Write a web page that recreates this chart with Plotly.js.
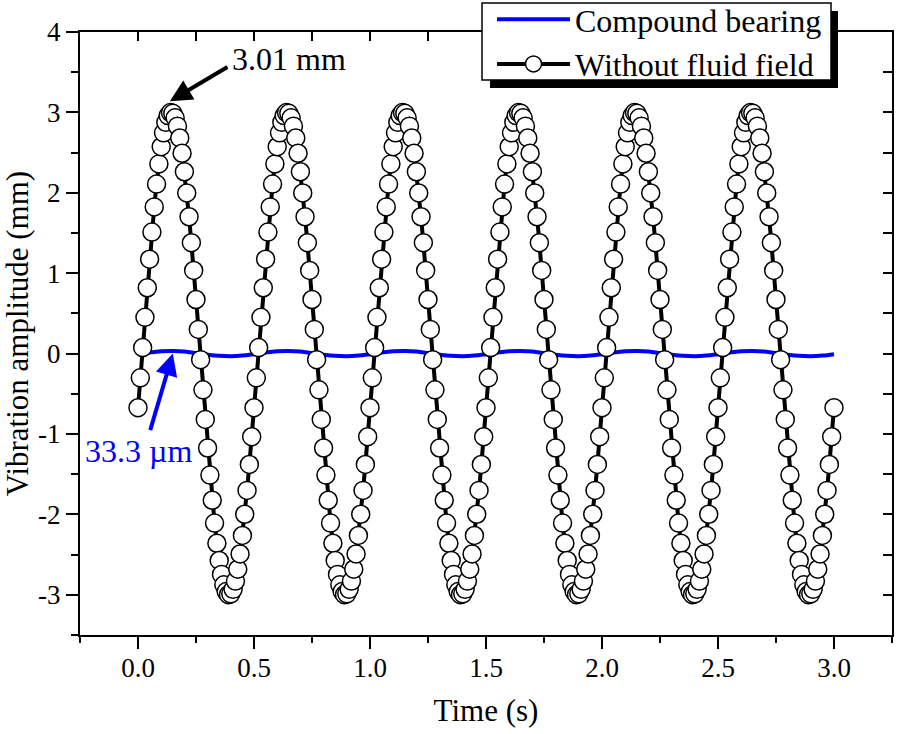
<!DOCTYPE html>
<html>
<head>
<meta charset="utf-8">
<script src="https://cdn.plot.ly/plotly-3.0.1.min.js"></script>
<style>html,body{margin:0;padding:0;background:#fff;}#chart{width:898px;height:734px;}</style>
</head>
<body>
<div id="chart"></div>
<script>
// Without fluid field: sampled every 0.01 s from t = 0.00 s to 3.00 s (mm)
var noFluidCycle1 = [-0.673,-0.301,0.075,0.451,0.819,1.174,1.511,1.824,2.108,2.359,2.573,2.746,2.876,2.960,2.998,2.988,2.932,2.829,2.682,2.492,2.262,1.998,1.702,1.379,1.034,0.673,0.301,-0.075,-0.451,-0.819,-1.174,-1.511,-1.824,-2.108,-2.359,-2.573,-2.746,-2.876,-2.960,-2.998,-2.988,-2.932,-2.829,-2.682,-2.492,-2.262,-1.998,-1.702,-1.379,-1.034];
var noFluidCycle2 = [-0.673,-0.301,0.075,0.451,0.819,1.174,1.511,1.824,2.108,2.359,2.573,2.746,2.876,2.960,2.998,2.988,2.932,2.829,2.682,2.492,2.262,1.998,1.702,1.379,1.034,0.673,0.301,-0.075,-0.451,-0.819,-1.174,-1.511,-1.824,-2.108,-2.359,-2.573,-2.746,-2.876,-2.960,-2.998,-2.988,-2.932,-2.829,-2.682,-2.492,-2.262,-1.998,-1.702,-1.379,-1.034];
var noFluidCycle3 = [-0.673,-0.301,0.075,0.451,0.819,1.174,1.511,1.824,2.108,2.359,2.573,2.746,2.876,2.960,2.998,2.988,2.932,2.829,2.682,2.492,2.262,1.998,1.702,1.379,1.034,0.673,0.301,-0.075,-0.451,-0.819,-1.174,-1.511,-1.824,-2.108,-2.359,-2.573,-2.746,-2.876,-2.960,-2.998,-2.988,-2.932,-2.829,-2.682,-2.492,-2.262,-1.998,-1.702,-1.379,-1.034];
var noFluidCycle4 = [-0.673,-0.301,0.075,0.451,0.819,1.174,1.511,1.824,2.108,2.359,2.573,2.746,2.876,2.960,2.998,2.988,2.932,2.829,2.682,2.492,2.262,1.998,1.702,1.379,1.034,0.673,0.301,-0.075,-0.451,-0.819,-1.174,-1.511,-1.824,-2.108,-2.359,-2.573,-2.746,-2.876,-2.960,-2.998,-2.988,-2.932,-2.829,-2.682,-2.492,-2.262,-1.998,-1.702,-1.379,-1.034];
var noFluidCycle5 = [-0.673,-0.301,0.075,0.451,0.819,1.174,1.511,1.824,2.108,2.359,2.573,2.746,2.876,2.960,2.998,2.988,2.932,2.829,2.682,2.492,2.262,1.998,1.702,1.379,1.034,0.673,0.301,-0.075,-0.451,-0.819,-1.174,-1.511,-1.824,-2.108,-2.359,-2.573,-2.746,-2.876,-2.960,-2.998,-2.988,-2.932,-2.829,-2.682,-2.492,-2.262,-1.998,-1.702,-1.379,-1.034];
var noFluidCycle6 = [-0.673,-0.301,0.075,0.451,0.819,1.174,1.511,1.824,2.108,2.359,2.573,2.746,2.876,2.960,2.998,2.988,2.932,2.829,2.682,2.492,2.262,1.998,1.702,1.379,1.034,0.673,0.301,-0.075,-0.451,-0.819,-1.174,-1.511,-1.824,-2.108,-2.359,-2.573,-2.746,-2.876,-2.960,-2.998,-2.988,-2.932,-2.829,-2.682,-2.492,-2.262,-1.998,-1.702,-1.379,-1.034];
var noFluidEnd = [-0.673];
var noFluidT0 = 0.0, noFluidDt = 0.01;

// Compound bearing: sampled every 0.05 s from 0.00 s to 3.00 s (mm)
var compound = [-0.007,0.013,0.028,0.033,0.025,0.007,-0.013,-0.028,-0.033,-0.025,
                -0.007,0.013,0.028,0.033,0.025,0.007,-0.013,-0.028,-0.033,-0.025,
                -0.007,0.013,0.028,0.033,0.025,0.007,-0.013,-0.028,-0.033,-0.025,
                -0.007,0.013,0.028,0.033,0.025,0.007,-0.013,-0.028,-0.033,-0.025,
                -0.007,0.013,0.028,0.033,0.025,0.007,-0.013,-0.028,-0.033,-0.025,
                -0.007,0.013,0.028,0.033,0.025,0.007,-0.013,-0.028,-0.033,-0.025,
                -0.007];
var compoundT0 = 0.0, compoundDt = 0.05;

var xTicks = [0.0, 0.5, 1.0, 1.5, 2.0, 2.5, 3.0];
var xTickText = ['0.0','0.5','1.0','1.5','2.0','2.5','3.0'];
var yTicks = [-3, -2, -1, 0, 1, 2, 3, 4];
var yTickText = ['-3','-2','-1','0','1','2','3','4'];

var seriesNames = ['Compound bearing', 'Without fluid field'];

var noFluid = [].concat(noFluidCycle1, noFluidCycle2, noFluidCycle3, noFluidCycle4, noFluidCycle5, noFluidCycle6, noFluidEnd);

var FONT = '"Liberation Serif", "Times New Roman", Times, serif';

var traces = [
  {
    type: 'scatter', mode: 'lines', name: seriesNames[0],
    x0: compoundT0, dx: compoundDt, y: compound,
    line: {color: '#0000ff', width: 4, shape: 'spline'}
  },
  {
    type: 'scatter', mode: 'lines+markers', name: seriesNames[1],
    x0: noFluidT0, dx: noFluidDt, y: noFluid,
    line: {color: '#000000', width: 4},
    marker: {symbol: 'circle', size: 18, color: '#ffffff', line: {color: '#000000', width: 1.5}}
  },
  {
    type: 'scatter', mode: 'lines', x: [null], y: [null], xaxis: 'x2', yaxis: 'y2',
    showlegend: false, hoverinfo: 'skip'
  }
];

var layout = {
  width: 898, height: 734,
  margin: {l: 80, r: 6, t: 32, b: 99, autoexpand: false},
  paper_bgcolor: '#ffffff', plot_bgcolor: '#ffffff',
  font: {family: FONT, color: '#000000', size: 27},
  showlegend: true,
  xaxis: {
    range: [-0.25, 3.25], tickmode: 'array', tickvals: xTicks, ticktext: xTickText,
    ticks: 'outside', ticklen: 12, tickwidth: 2, tickcolor: '#000',
    minor: {dtick: 0.25, tick0: 0, ticks: 'outside', ticklen: 6, tickwidth: 2, tickcolor: '#000', showgrid: false},
    showline: true, linewidth: 2, linecolor: '#000', showgrid: false, zeroline: false,
    tickfont: {family: FONT, size: 27}, ticklabelstandoff: -4,
    title: {text: 'Time (s)', font: {family: FONT, size: 31}, standoff: 17}
  },
  yaxis: {
    range: [-3.5, 4], tickmode: 'array', tickvals: yTicks, ticktext: yTickText,
    ticks: 'outside', ticklen: 12, tickwidth: 2, tickcolor: '#000',
    minor: {dtick: 0.5, tick0: 0, ticks: 'outside', ticklen: 7, tickwidth: 2, tickcolor: '#000', showgrid: false},
    showline: true, linewidth: 2, linecolor: '#000', showgrid: false, zeroline: false,
    tickfont: {family: FONT, size: 27},
    title: {text: 'Vibration amplitude (mm)', font: {family: FONT, size: 31}, standoff: 6}
  },
  xaxis2: {
    overlaying: 'x', side: 'top', matches: 'x', range: [-0.25, 3.25],
    dtick: 0.25, tick0: 0, ticks: 'inside', ticklen: 9, tickwidth: 2, tickcolor: '#000',
    showticklabels: false, showline: true, linewidth: 2, linecolor: '#000', showgrid: false, zeroline: false
  },
  yaxis2: {
    overlaying: 'y', side: 'right', matches: 'y', range: [-3.5, 4],
    dtick: 0.5, tick0: 0, ticks: 'inside', ticklen: 9, tickwidth: 2, tickcolor: '#000',
    showticklabels: false, showline: true, linewidth: 2, linecolor: '#000', showgrid: false, zeroline: false
  },
  legend: {
    x: 0.5074, y: 1.0663, xanchor: 'left', yanchor: 'top',
    bgcolor: 'rgba(0,0,0,0)', borderwidth: 0,
    font: {family: FONT, size: 32}, itemwidth: 73, tracegroupgap: 0
  },
  shapes: [
    {type: 'rect', xref: 'paper', yref: 'paper', x0: 0.5049, x1: 0.9335, y0: 0.9071, y1: 1.0348,
     fillcolor: '#000', line: {width: 0}, layer: 'above'},
    {type: 'rect', xref: 'paper', yref: 'paper', x0: 0.4951, x1: 0.9249, y0: 0.9204, y1: 1.0481,
     fillcolor: '#fff', line: {width: 1.5, color: '#000'}, layer: 'above'}
  ],
  annotations: [
    {x: 0.1375, y: 3.14, xref: 'x', yref: 'y', text: '', showarrow: true,
     ax: 59, ay: -35, arrowhead: 2, arrowsize: 1.1, arrowwidth: 4, arrowcolor: '#000', standoff: 0},
    {x: 0.651, y: 3.66, xref: 'x', yref: 'y', text: '3.01 mm', showarrow: false,
     font: {family: FONT, size: 32, color: '#000'}},
    {x: 0.150, y: 0.0, xref: 'x', yref: 'y', text: '', showarrow: true,
     ax: -23, ay: 78, arrowhead: 2, arrowsize: 1.1, arrowwidth: 4, arrowcolor: '#0000ff', standoff: 0},
    {x: 0.004, y: -1.21, xref: 'x', yref: 'y', text: '33.3 µm', showarrow: false,
     font: {family: FONT, size: 32, color: '#0000ff'}}
  ]
};

Plotly.newPlot('chart', traces, layout, {displayModeBar: false, staticPlot: true});
</script>
</body>
</html>
